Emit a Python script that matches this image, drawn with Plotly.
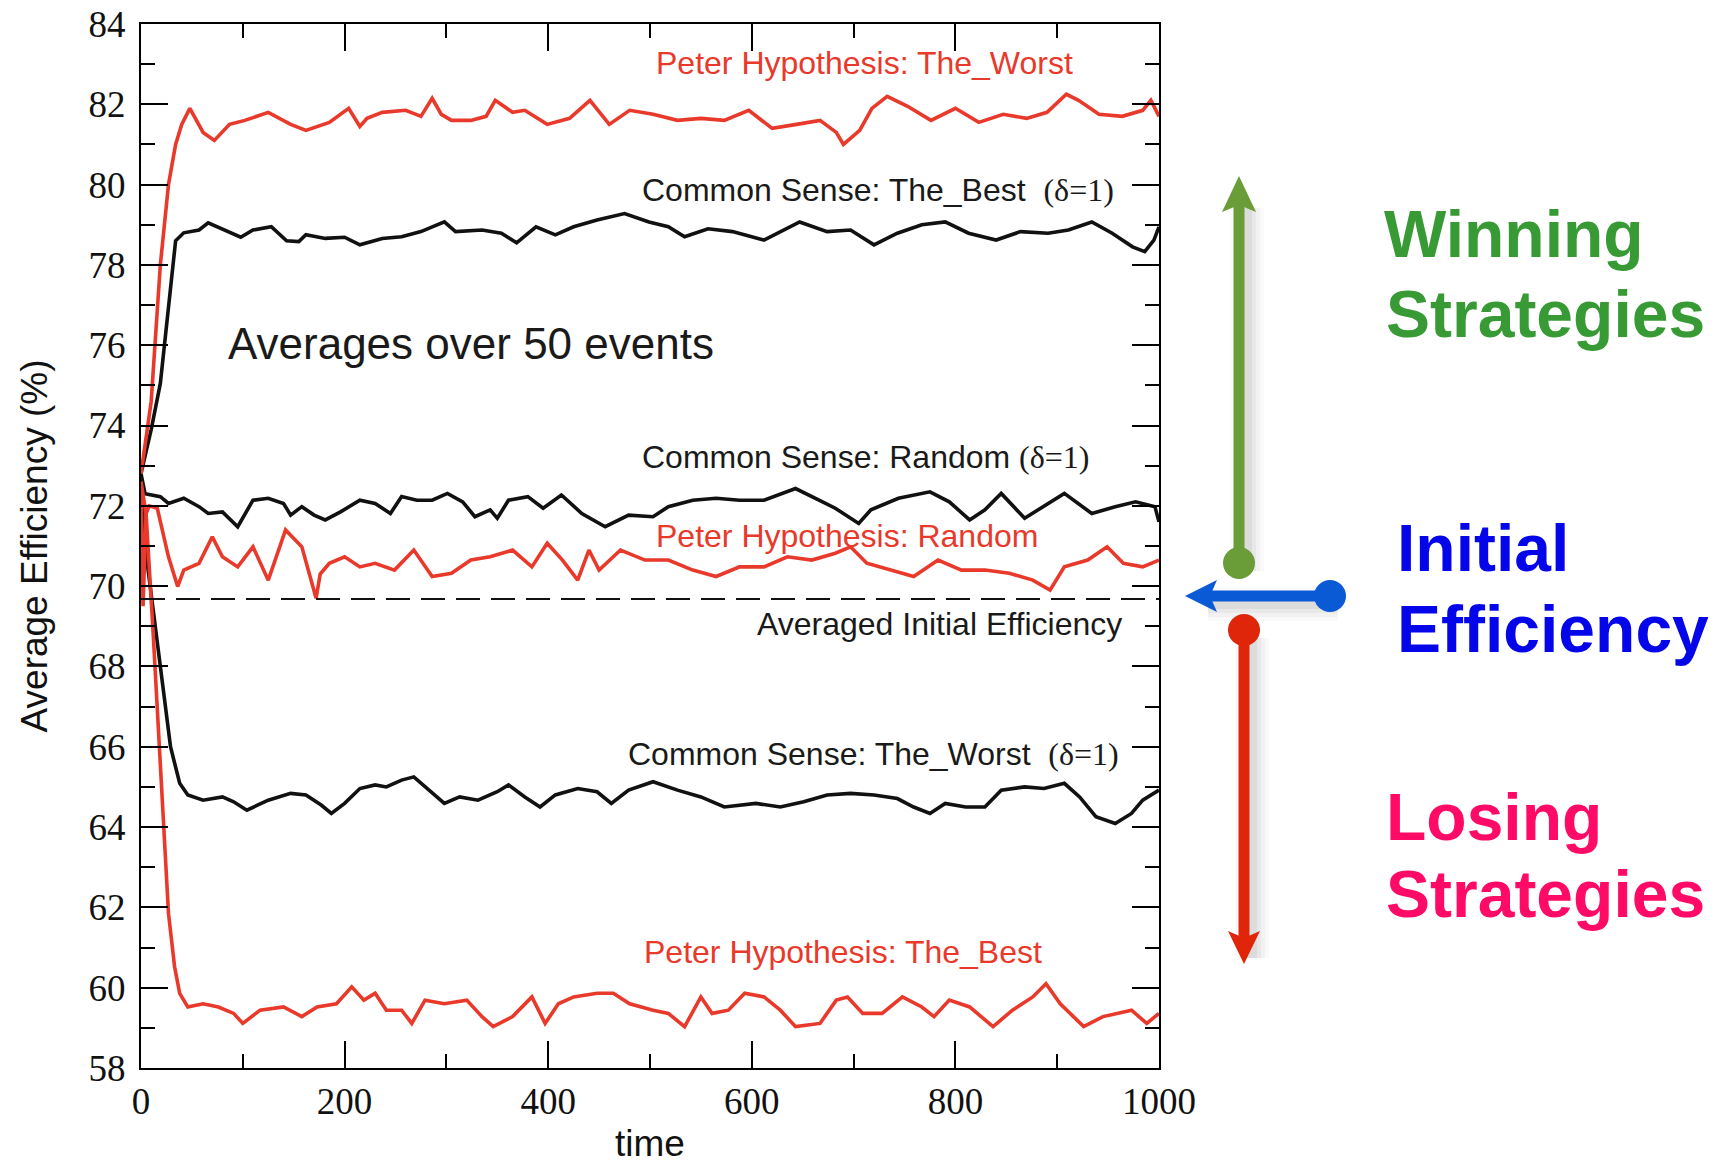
import plotly.graph_objects as go

# ---------------- data ----------------
t_peter_worst = [0, 10, 19, 27, 34, 40, 48, 61, 72, 87, 102, 125, 147, 162, 185, 204, 215, 222, 237, 260,
                 275, 286, 295, 305, 324, 339, 348, 365, 377, 399, 421, 441, 460, 480, 503, 527, 550, 573,
                 597, 620, 644, 667, 683, 690, 706, 718, 733, 753, 776, 800, 823, 847, 870, 890, 909, 921,
                 941, 964, 984, 992, 1000]
v_peter_worst = [72.8, 74.6, 78.0, 80.0, 81.0, 81.5, 81.9, 81.3, 81.1, 81.5, 81.6, 81.8, 81.5, 81.35, 81.55,
                 81.9, 81.45, 81.65, 81.8, 81.85, 81.7, 82.15, 81.75, 81.6, 81.6, 81.7, 82.1, 81.8, 81.85,
                 81.5, 81.65, 82.1, 81.5, 81.85, 81.75, 81.6, 81.65, 81.6, 81.85, 81.4, 81.5, 81.6, 81.3,
                 81.0, 81.35, 81.9, 82.2, 81.95, 81.6, 81.9, 81.55, 81.75, 81.65, 81.8, 82.25, 82.1, 81.75,
                 81.7, 81.85, 82.1, 81.7]

t_common_best = [0, 10, 19, 27, 34, 42, 57, 66, 80, 98, 110, 128, 143, 155, 162, 181, 200, 215, 237, 256,
                 275, 298, 309, 335, 354, 369, 388, 407, 425, 448, 475, 499, 518, 534, 557, 581, 612, 647,
                 674, 697, 720, 743, 767, 790, 813, 840, 864, 891, 911, 934, 954, 974, 986, 995, 1000]
v_common_best = [72.8, 73.9, 75.05, 77.0, 78.6, 78.8, 78.87, 79.05, 78.9, 78.69, 78.87, 78.95, 78.6, 78.58,
                 78.75, 78.66, 78.69, 78.5, 78.66, 78.7, 78.83, 79.07, 78.83, 78.87, 78.79, 78.55, 78.95,
                 78.75, 78.95, 79.12, 79.28, 79.07, 78.95, 78.7, 78.9, 78.83, 78.62, 79.07, 78.83, 78.87,
                 78.5, 78.79, 79.0, 79.07, 78.79, 78.62, 78.83, 78.79, 78.87, 79.07, 78.79, 78.45, 78.33,
                 78.62, 78.95]

t_common_random = [0, 4, 19, 27, 42, 57, 66, 80, 95, 110, 125, 140, 147, 158, 170, 181, 196, 215, 230, 245,
                   256, 271, 286, 301, 316, 328, 343, 350, 361, 380, 395, 413, 433, 456, 479, 503, 518, 542,
                   565, 588, 612, 643, 666, 682, 705, 717, 744, 775, 794, 814, 829, 845, 868, 887, 907, 934,
                   957, 977, 996, 1000]
v_common_random = [72.8, 72.3, 72.23, 72.06, 72.19, 71.98, 71.81, 71.85, 71.48, 72.14, 72.19, 72.06, 71.77,
                   71.98, 71.77, 71.65, 71.85, 72.14, 72.06, 71.81, 72.23, 72.14, 72.14, 72.31, 72.1, 71.73,
                   71.9, 71.69, 72.14, 72.23, 71.94, 72.27, 71.81, 71.48, 71.77, 71.73, 71.98, 72.14, 72.19,
                   72.14, 72.14, 72.43, 72.14, 71.94, 71.56, 71.9, 72.19, 72.35, 72.1, 71.65, 71.9, 72.31,
                   71.69, 71.98, 72.31, 71.81, 71.98, 72.1, 71.98, 71.6]

t_peter_random = [0, 2, 5, 8, 16, 27, 36, 42, 57, 70, 80, 95, 110, 125, 142, 158, 172, 176, 185, 200, 215,
                  230, 249, 268, 286, 305, 324, 343, 365, 384, 399, 414, 429, 440, 450, 471, 495, 518, 542,
                  565, 588, 612, 635, 659, 682, 697, 713, 736, 759, 783, 806, 829, 853, 876, 893, 907, 930,
                  949, 965, 984, 1000]
v_peter_random = [72.6, 69.5, 71.8, 72.0, 71.94, 70.73, 69.99, 70.4, 70.57, 71.23, 70.73, 70.48, 70.98, 70.15,
                  71.4, 70.98, 69.7, 70.3, 70.57, 70.73, 70.48, 70.57, 70.4, 70.9, 70.24, 70.32, 70.65, 70.73,
                  70.9, 70.48, 71.07, 70.65, 70.15, 70.9, 70.4, 70.9, 70.65, 70.65, 70.4, 70.24, 70.48, 70.48,
                  70.73, 70.65, 70.82, 70.98, 70.57, 70.4, 70.24, 70.65, 70.4, 70.4, 70.32, 70.15, 69.9,
                  70.48, 70.65, 70.98, 70.57, 70.48, 70.65]

t_common_worst = [0, 4, 12, 19, 29, 38, 46, 61, 80, 91, 104, 125, 147, 162, 177, 187, 200, 215, 230, 241, 256,
                  268, 279, 298, 313, 331, 350, 361, 377, 392, 407, 429, 448, 462, 479, 503, 527, 550, 573,
                  604, 628, 651, 674, 697, 720, 743, 759, 775, 790, 810, 829, 845, 868, 887, 907, 922, 938,
                  957, 973, 984, 1000]
v_common_worst = [72.8, 71.0, 69.4, 67.99, 66.0, 65.09, 64.8, 64.67, 64.75, 64.63, 64.42, 64.67, 64.84, 64.8,
                  64.55, 64.34, 64.59, 64.96, 65.05, 65.0, 65.17, 65.25, 65.0, 64.59, 64.75, 64.67, 64.88,
                  65.05, 64.75, 64.5, 64.8, 64.96, 64.88, 64.59, 64.92, 65.13, 64.92, 64.75, 64.5, 64.59,
                  64.5, 64.63, 64.8, 64.84, 64.8, 64.71, 64.5, 64.34, 64.59, 64.5, 64.5, 64.92, 65.0, 64.96,
                  65.09, 64.75, 64.26, 64.09, 64.34, 64.67, 64.92]

t_peter_best = [0, 5, 12, 17.5, 21, 23, 27, 33, 38, 46, 61, 76, 91, 100, 117, 140, 158, 173, 192, 207, 219,
                230, 241, 256, 266, 279, 298, 320, 335, 346, 365, 384, 397, 410, 425, 448, 464, 480, 503, 518,
                534, 550, 561, 577, 593, 612, 628, 643, 667, 683, 694, 709, 728, 748, 767, 779, 794, 814, 837,
                856, 876, 889, 903, 926, 945, 973, 988, 1000]
v_peter_best = [72.6, 71.8, 68.8, 66.33, 64.67, 64.0, 61.85, 60.52, 59.86, 59.52, 59.6, 59.52, 59.36, 59.11,
                59.44, 59.52, 59.28, 59.52, 59.6, 60.02, 59.69, 59.86, 59.44, 59.44, 59.11, 59.69, 59.6, 59.69,
                59.28, 59.03, 59.28, 59.77, 59.11, 59.6, 59.77, 59.86, 59.86, 59.6, 59.44, 59.36, 59.03, 59.77,
                59.36, 59.44, 59.86, 59.77, 59.44, 59.03, 59.11, 59.69, 59.77, 59.36, 59.36, 59.77, 59.52,
                59.28, 59.69, 59.52, 59.03, 59.44, 59.77, 60.1, 59.6, 59.03, 59.28, 59.44, 59.11, 59.36]

t_initial = [0, 1000]
v_initial = [69.68, 69.68]

x_ticks = [0, 200, 400, 600, 800, 1000]
y_ticks = [58, 60, 62, 64, 66, 68, 70, 72, 74, 76, 78, 80, 82, 84]

RED = "#e8392b"
BLACK = "#111111"

# ---------------- figure geometry (pixels) ----------------
W, H = 1726, 1164
L, R, T, B = 141, 1159, 24, 1068


def fx(px):
    return (px - L) / (R - L)


def fy(py):
    return (B - py) / (B - T)


fig = go.Figure()

series = [
    (t_common_best, v_common_best, BLACK),
    (t_common_random, v_common_random, BLACK),
    (t_common_worst, v_common_worst, BLACK),
    (t_peter_worst, v_peter_worst, RED),
    (t_peter_random, v_peter_random, RED),
    (t_peter_best, v_peter_best, RED),
]
for tx, vy, col in series:
    fig.add_trace(go.Scatter(x=tx, y=vy, mode="lines",
                             line=dict(color=col, width=3.6), showlegend=False, hoverinfo="skip"))

fig.add_trace(go.Scatter(x=t_initial, y=v_initial, mode="lines",
                         line=dict(color=BLACK, width=2.2, dash="24px,11px"),
                         showlegend=False, hoverinfo="skip"))

serif = "Liberation Serif, Times New Roman, serif"
sans = "Liberation Sans, Arial, sans-serif"

axis_common = dict(
    showline=True, linewidth=2, linecolor="black", mirror="ticks",
    ticks="inside", ticklen=27, tickwidth=2, tickcolor="black",
    showgrid=False, zeroline=False,
    tickfont=dict(family=serif, size=37, color="#111"),
)

fig.update_xaxes(range=[0, 1000], tickvals=x_ticks,
                 minor=dict(dtick=100, tick0=0, ticks="inside", ticklen=14, tickwidth=2, tickcolor="black"),
                 title=dict(text="time", font=dict(family=sans, size=37, color="#111"), standoff=20),
                 **axis_common)
fig.update_yaxes(range=[58, 84], tickvals=y_ticks,
                 minor=dict(dtick=1, tick0=58, ticks="inside", ticklen=14, tickwidth=2, tickcolor="black"),
                 title=dict(text="Average Efficiency (%)", font=dict(family=sans, size=37, color="#111"),
                            standoff=30),
                 ticklabelstandoff=6,
                 **axis_common)

# ---------------- in-plot labels ----------------
d1 = "<span style='font-family:Liberation Serif'>(δ=1)</span>"
labels = [
    ("Peter Hypothesis: The_Worst", 711, 83.04, RED, 32),
    ("Common Sense: The_Best\u00a0\u00a0" + d1, 724, 79.86, "#1a1a1a", 32),
    ("Averages over 50 events", 324, 76.05, "#1a1a1a", 44),
    ("Common Sense: Random " + d1, 712, 73.22, "#1a1a1a", 32),
    ("Peter Hypothesis: Random", 694, 71.25, RED, 32),
    ("Averaged Initial Efficiency", 784, 69.05, "#1a1a1a", 32),
    ("Common Sense: The_Worst\u00a0\u00a0" + d1, 720, 65.82, "#1a1a1a", 32),
    ("Peter Hypothesis: The_Best", 690, 60.88, RED, 32),
]
for txt, xv, yv, col, size in labels:
    fig.add_annotation(x=xv, y=yv, xref="x", yref="y", text=txt, showarrow=False,
                       font=dict(family=sans, size=size, color=col), xanchor="center", yanchor="middle")

# ---------------- side legend texts ----------------
side_texts = [
    ("Winning", 1382, 234, "#389a35"),
    ("Strategies", 1384, 314, "#389a35"),
    ("Initial", 1395, 548, "#0505ea"),
    ("Efficiency", 1395, 629, "#0505ea"),
    ("Losing", 1384, 817, "#ff0a66"),
    ("Strategies", 1384, 894, "#ff0a66"),
]
for txt, px, py, col in side_texts:
    fig.add_annotation(x=fx(px), y=fy(py), xref="paper", yref="paper", text="<b>%s</b>" % txt,
                       showarrow=False, font=dict(family=sans, size=66, color=col),
                       xanchor="left", yanchor="middle")

# ---------------- arrows ----------------
shapes = []


def seg(x0, y0, x1, y1, color, width):
    shapes.append(dict(type="line", xref="paper", yref="paper", x0=fx(x0), y0=fy(y0), x1=fx(x1), y1=fy(y1),
                       line=dict(color=color, width=width), layer="above"))


def dot(cx, cy, r, color):
    shapes.append(dict(type="circle", xref="paper", yref="paper", x0=fx(cx - r), x1=fx(cx + r),
                       y0=fy(cy + r), y1=fy(cy - r), fillcolor=color, line=dict(width=0), layer="above"))


def head(points, color):
    path = "M " + " L ".join("%f,%f" % (fx(a), fy(b)) for a, b in points) + " Z"
    shapes.append(dict(type="path", xref="paper", yref="paper", path=path, fillcolor=color,
                       line=dict(width=0), layer="above"))


def shadow_seg(x0, y0, x1, y1):
    for w, a in ((34, 0.02), (26, 0.03), (18, 0.04), (10, 0.05)):
        seg(x0 + 8, y0 + 8, x1 + 8, y1 + 8, "rgba(0,0,0,%.3f)" % a, w)


GREEN_A = "#6a9c38"
BLUE_A = "#0a5ad6"
RED_A = "#e0260a"

# soft shadows first
shadow_seg(1239, 563, 1239, 200)
shadow_seg(1330, 596, 1200, 596)
shadow_seg(1244, 630, 1244, 950)

# green (up)
seg(1239, 563, 1239, 200, GREEN_A, 11)
head([(1239, 176), (1222, 212), (1239, 205), (1256, 212)], GREEN_A)
dot(1239, 563, 16, GREEN_A)

# blue (left)
seg(1330, 596, 1205, 596, BLUE_A, 11)
head([(1185, 596), (1217, 580), (1210, 596), (1217, 612)], BLUE_A)
dot(1330, 596, 16, BLUE_A)

# red (down)
seg(1244, 630, 1244, 940, RED_A, 11)
head([(1244, 964), (1228, 931), (1244, 938), (1260, 931)], RED_A)
dot(1244, 630, 16, RED_A)

fig.update_layout(
    width=W, height=H,
    margin=dict(l=L, r=W - R, t=T, b=H - B, autoexpand=False),
    paper_bgcolor="white", plot_bgcolor="white",
    shapes=shapes,
    showlegend=False,
)

fig.write_html("out.html")
